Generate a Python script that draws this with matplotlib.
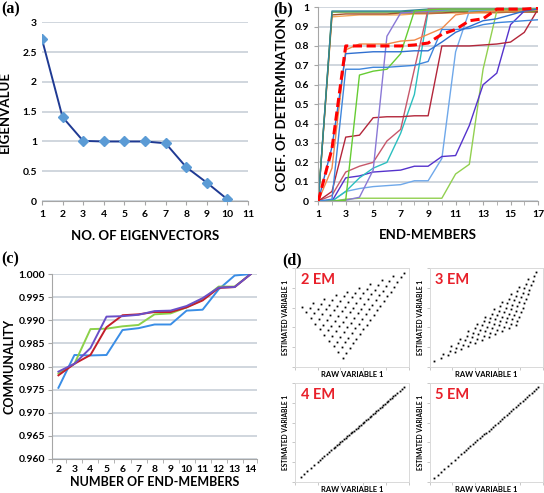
import matplotlib
matplotlib.use('Agg')
import matplotlib.pyplot as plt

plt.rcParams['font.family'] = ['Lato', 'DejaVu Sans']
plt.rcParams['font.weight'] = 'bold'
plt.rcParams['axes.labelweight'] = 'bold'

# (a) eigenvalues
eig_n = [1, 2, 3, 4, 5, 6, 7, 8, 9, 10]
eig_val = [2.72, 1.41, 1.01, 1.0, 1.0, 1.0, 0.97, 0.57, 0.31, 0.03]

# (b) coefficient of determination vs end-members
em_n = [1, 2, 3, 4, 5, 6, 7, 8, 9, 10, 11, 12, 13, 14, 15, 16, 17]
cod_top1 = [0, 0.98, 0.98, 0.98, 0.98, 0.98, 0.98, 0.985, 0.99, 0.99, 0.99, 0.99, 0.99, 0.99, 0.99, 0.99, 0.99]
cod_top2 = [0, 0.96, 0.965, 0.965, 0.965, 0.965, 0.97, 0.97, 0.97, 0.97, 0.975, 0.975, 0.975, 0.975, 0.975, 0.975, 0.975]
cod_top3 = [0, 0.975, 0.975, 0.975, 0.975, 0.975, 0.975, 0.98, 0.98, 0.98, 0.98, 0.98, 0.98, 0.98, 0.98, 0.98, 0.98]
cod_top4 = [0, 0.95, 0.955, 0.96, 0.96, 0.96, 0.96, 0.965, 0.965, 0.97, 0.97, 0.97, 0.97, 0.97, 0.975, 0.975, 0.975]
cod_blue1 = [0, 0.28, 0.76, 0.765, 0.77, 0.77, 0.77, 0.775, 0.775, 0.82, 0.87, 0.90, 0.93, 0.94, 0.96, 0.98, 0.99]
cod_blue2 = [0, 0.01, 0.68, 0.68, 0.69, 0.69, 0.695, 0.70, 0.72, 0.885, 0.885, 0.89, 0.91, 0.92, 0.925, 0.93, 0.935]
cod_orange = [0, 0.17, 0.78, 0.81, 0.81, 0.81, 0.825, 0.83, 0.86, 0.89, 0.96, 0.97, 0.975, 0.98, 0.98, 0.98, 0.985]
cod_green = [0, 0, 0.005, 0.65, 0.67, 0.68, 0.76, 0.98, 0.985, 0.99, 0.99, 0.99, 0.99, 0.99, 0.99, 0.99, 0.99]
cod_lavender = [0, 0, 0.005, 0.02, 0.16, 0.85, 0.97, 0.975, 0.98, 0.985, 0.99, 0.99, 0.99, 0.99, 0.99, 0.99, 0.99]
cod_darkred = [0, 0.05, 0.33, 0.34, 0.43, 0.435, 0.435, 0.44, 0.44, 0.80, 0.80, 0.80, 0.805, 0.81, 0.82, 0.87, 0.99]
cod_rose = [0, 0.03, 0.15, 0.18, 0.20, 0.31, 0.37, 0.68, 0.99, 0.99, 0.99, 0.99, 0.99, 0.99, 0.99, 0.99, 0.99]
cod_teal = [0, 0, 0.05, 0.12, 0.17, 0.20, 0.35, 0.55, 0.98, 0.985, 0.99, 0.99, 0.99, 0.99, 0.99, 0.99, 0.99]
cod_violet = [0, 0, 0.12, 0.13, 0.15, 0.155, 0.16, 0.18, 0.18, 0.23, 0.235, 0.39, 0.60, 0.66, 0.91, 0.98, 0.99]
cod_lightblue = [0, 0, 0.05, 0.065, 0.075, 0.08, 0.085, 0.105, 0.105, 0.22, 0.77, 0.98, 0.985, 0.99, 0.99, 0.99, 0.99]
cod_lightgreen = [0, 0, 0.01, 0.015, 0.015, 0.015, 0.015, 0.015, 0.015, 0.015, 0.14, 0.19, 0.68, 0.98, 0.985, 0.99, 0.99]
cod_mean = [0, 0.27, 0.80, 0.80, 0.80, 0.80, 0.80, 0.805, 0.815, 0.86, 0.885, 0.93, 0.94, 0.99, 0.99, 0.99, 0.995]

# (c) communality
comm_n = [2, 3, 4, 5, 6, 7, 8, 9, 10, 11, 12, 13, 14]
comm_blue = [0.9754, 0.9825, 0.9824, 0.9825, 0.9879, 0.9883, 0.9891, 0.9891, 0.9921, 0.9923, 0.9967, 0.9997, 1.000]
comm_green = [0.9785, 0.9806, 0.9881, 0.9882, 0.9887, 0.9890, 0.9913, 0.9915, 0.9928, 0.9945, 0.9973, 0.9973, 1.000]
comm_red = [0.9781, 0.9806, 0.9825, 0.9885, 0.9911, 0.9913, 0.9918, 0.9918, 0.9928, 0.9943, 0.9970, 0.9972, 1.000]
comm_purple = [0.9789, 0.9806, 0.9840, 0.9908, 0.9909, 0.9912, 0.9920, 0.9921, 0.9931, 0.9948, 0.9971, 0.9972, 1.000]

# (d) raw vs estimated variable 1
em2_x = [0.06,
         0.10, 0.13, 0.16,
         0.14, 0.17, 0.20, 0.23, 0.26,
         0.18, 0.21, 0.24, 0.27, 0.30, 0.33, 0.36,
         0.22, 0.25, 0.28, 0.31, 0.34, 0.37, 0.40, 0.43, 0.46,
         0.26, 0.29, 0.32, 0.35, 0.38, 0.41, 0.44, 0.47, 0.50, 0.53, 0.56,
         0.30, 0.33, 0.36, 0.39, 0.42, 0.45, 0.48, 0.51, 0.54, 0.57, 0.60, 0.63, 0.66,
         0.34, 0.37, 0.40, 0.43, 0.46, 0.49, 0.52, 0.55, 0.58, 0.61, 0.64, 0.67, 0.70, 0.73, 0.76,
         0.38, 0.41, 0.44, 0.47, 0.50, 0.53, 0.56, 0.59, 0.62, 0.65, 0.68, 0.71, 0.74, 0.77, 0.80, 0.83, 0.86,
         0.42, 0.45, 0.48, 0.51, 0.54, 0.57, 0.60, 0.63, 0.66, 0.69, 0.72, 0.75, 0.78, 0.81, 0.84, 0.87, 0.90, 0.93, 0.96]
em2_y = [0.64,
         0.58, 0.63, 0.68,
         0.52, 0.57, 0.62, 0.67, 0.72,
         0.46, 0.51, 0.56, 0.61, 0.66, 0.71, 0.76,
         0.40, 0.45, 0.50, 0.55, 0.60, 0.65, 0.70, 0.75, 0.80,
         0.34, 0.39, 0.44, 0.49, 0.54, 0.59, 0.64, 0.69, 0.74, 0.79, 0.84,
         0.28, 0.33, 0.38, 0.43, 0.48, 0.53, 0.58, 0.63, 0.68, 0.73, 0.78, 0.83, 0.88,
         0.22, 0.27, 0.32, 0.37, 0.42, 0.47, 0.52, 0.57, 0.62, 0.67, 0.72, 0.77, 0.82, 0.87, 0.92,
         0.16, 0.21, 0.26, 0.31, 0.36, 0.41, 0.46, 0.51, 0.56, 0.61, 0.66, 0.71, 0.76, 0.81, 0.86, 0.91, 0.96,
         0.10, 0.15, 0.20, 0.25, 0.30, 0.35, 0.40, 0.45, 0.50, 0.55, 0.60, 0.65, 0.70, 0.75, 0.80, 0.85, 0.90, 0.95, 1.00]

em3_x = [0.04,
         0.10, 0.115,
         0.16, 0.175, 0.19,
         0.22, 0.235, 0.25, 0.265,
         0.28, 0.295, 0.31, 0.325, 0.34,
         0.34, 0.355, 0.37, 0.385, 0.40, 0.415,
         0.40, 0.415, 0.43, 0.445, 0.46, 0.475, 0.49,
         0.46, 0.475, 0.49, 0.505, 0.52, 0.535, 0.55, 0.565,
         0.52, 0.535, 0.55, 0.565, 0.58, 0.595, 0.61, 0.625, 0.64,
         0.58, 0.595, 0.61, 0.625, 0.64, 0.655, 0.67, 0.685, 0.70, 0.715,
         0.64, 0.655, 0.67, 0.685, 0.70, 0.715, 0.73, 0.745, 0.76, 0.775, 0.79,
         0.70, 0.715, 0.73, 0.745, 0.76, 0.775, 0.79, 0.805, 0.82, 0.835, 0.85, 0.865,
         0.76, 0.775, 0.79, 0.805, 0.82, 0.835, 0.85, 0.865, 0.88, 0.895, 0.91, 0.925, 0.94]
em3_y = [0.06,
         0.09, 0.135,
         0.12, 0.165, 0.21,
         0.15, 0.195, 0.24, 0.285,
         0.18, 0.225, 0.27, 0.315, 0.36,
         0.21, 0.255, 0.30, 0.345, 0.39, 0.435,
         0.24, 0.285, 0.33, 0.375, 0.42, 0.465, 0.51,
         0.27, 0.315, 0.36, 0.405, 0.45, 0.495, 0.54, 0.585,
         0.30, 0.345, 0.39, 0.435, 0.48, 0.525, 0.57, 0.615, 0.66,
         0.33, 0.375, 0.42, 0.465, 0.51, 0.555, 0.60, 0.645, 0.69, 0.735,
         0.36, 0.405, 0.45, 0.495, 0.54, 0.585, 0.63, 0.675, 0.72, 0.765, 0.81,
         0.39, 0.435, 0.48, 0.525, 0.57, 0.615, 0.66, 0.705, 0.75, 0.795, 0.84, 0.885,
         0.42, 0.465, 0.51, 0.555, 0.60, 0.645, 0.69, 0.735, 0.78, 0.825, 0.87, 0.915, 0.96]

em4_raw = [0.05, 0.08, 0.11, 0.14, 0.17, 0.20, 0.22, 0.24, 0.26, 0.28, 0.30, 0.32, 0.34,
           0.355, 0.37, 0.385, 0.40, 0.415, 0.43, 0.445, 0.46, 0.475, 0.49, 0.505, 0.52,
           0.535, 0.55, 0.565, 0.58, 0.595, 0.61, 0.625, 0.64, 0.655, 0.67, 0.685, 0.70,
           0.715, 0.73, 0.745, 0.76, 0.775, 0.79, 0.805, 0.82, 0.835, 0.85, 0.865, 0.88,
           0.90, 0.92, 0.94, 0.96]
em4_est = list(em4_raw)
em5_raw = [0.04, 0.07, 0.10, 0.13, 0.16, 0.19, 0.22, 0.25, 0.28, 0.30, 0.32, 0.34, 0.36,
           0.38, 0.40, 0.42, 0.44, 0.46, 0.48, 0.50, 0.52, 0.54, 0.56, 0.58, 0.60, 0.62,
           0.64, 0.66, 0.68, 0.70, 0.72, 0.74, 0.76, 0.78, 0.80, 0.82, 0.84, 0.86, 0.88,
           0.90, 0.92, 0.94, 0.96]
em5_est = list(em5_raw)

grid_c = '#c8d0d8'
axis_c = '#a6a6a6'


def excel_axes(ax):
    for s in ['top', 'right']:
        ax.spines[s].set_visible(False)
    ax.spines['left'].set_color(axis_c)
    ax.spines['bottom'].set_color(axis_c)
    ax.yaxis.grid(True, color=grid_c, lw=1.2)
    ax.set_axisbelow(True)
    ax.tick_params(colors=axis_c, labelcolor='black', labelsize=7.5, length=3)


fig = plt.figure(figsize=(5.44, 4.93), dpi=100)

# ---- (a)
ax = fig.add_axes([0.077, 0.592, 0.379, 0.363])
excel_axes(ax)
ax.plot(eig_n, eig_val, color='#1f3a93', lw=1.4, marker='D', ms=5.5,
        mfc='#5b9bd5', mec='#5b9bd5', zorder=3)
ax.set_xlim(1, 11)
ax.set_ylim(0, 3)
ax.set_xticks(range(1, 12))
ax.set_yticks([0, 0.5, 1, 1.5, 2, 2.5, 3])
ax.set_yticklabels(['0', '0.5', '1', '1.5', '2', '2.5', '3'])
ax.set_xlabel('NO. OF EIGENVECTORS', fontsize=9.5, labelpad=8)
ax.set_ylabel('EIGENVALUE', fontsize=9.5, labelpad=8)
ax.spines['left'].set_visible(False)
ax.tick_params(axis='y', length=0)

# ---- (b)
ax = fig.add_axes([0.585, 0.592, 0.404, 0.3935])
excel_axes(ax)
b_series = [
    (cod_top4, '#f2a65a'), (cod_top2, '#a0522d'), (cod_top3, '#4e9a2c'), (cod_top1, '#31859c'),
    (cod_lightgreen, '#92d050'), (cod_lightblue, '#6fa8ea'), (cod_violet, '#5533cc'),
    (cod_teal, '#2bbfbf'), (cod_rose, '#c7576a'), (cod_darkred, '#b3263a'),
    (cod_lavender, '#8a78d6'), (cod_green, '#66cc33'), (cod_orange, '#f08a4b'),
    (cod_blue2, '#3f86dc'), (cod_blue1, '#2f6fd0'),
]
for vals, c in b_series:
    ax.plot(em_n, vals, color=c, lw=1.0)
ax.plot(em_n, cod_mean, color='#ff0000', lw=2.2, ls=(0, (3, 1.5)), zorder=4)
ax.set_xlim(1, 17)
ax.set_ylim(0, 1)
ax.set_xticks(range(1, 18, 2))
ax.set_xticks(range(2, 18, 2), minor=True)
ax.set_yticks([i / 10 for i in range(11)])
ax.set_yticklabels(['0', '0.1', '0.2', '0.3', '0.4', '0.5', '0.6', '0.7', '0.8', '0.9', '1'])
ax.tick_params(axis='x', which='minor', colors=axis_c, length=3)
ax.set_xlabel('END-MEMBERS', fontsize=9.5, labelpad=7)
ax.set_ylabel('COEF. OF DETERMINATION', fontsize=9.5, labelpad=5)

# ---- (c)
ax = fig.add_axes([0.0956, 0.069, 0.377, 0.375])
excel_axes(ax)
ax.plot(comm_n, comm_blue, color='#3a8ee6', lw=1.4)
ax.plot(comm_n, comm_green, color='#8cd14a', lw=1.4)
ax.plot(comm_n, comm_red, color='#c41e2a', lw=1.4)
ax.plot(comm_n, comm_purple, color='#6a4fc8', lw=1.4)
ax.set_xlim(1.6, 14.4)
ax.set_ylim(0.960, 1.000)
ax.set_xticks(comm_n)
ax.set_xticks([n + 0.5 for n in comm_n[:-1]] + [1.6, 14.4], minor=True)
ax.tick_params(axis='x', which='major', length=0, pad=4)
ax.tick_params(axis='x', which='minor', colors=axis_c, length=3)
ax.tick_params(axis='y', pad=2)
ax.set_yticks([0.960 + 0.005 * i for i in range(9)])
ax.set_yticklabels(['0.960', '0.965', '0.970', '0.975', '0.980', '0.985', '0.990', '0.995', '1.000'])
ax.set_xlabel('NUMBER OF END-MEMBERS', fontsize=9, labelpad=2)
ax.set_ylabel('COMMUNALITY', fontsize=9, labelpad=2)

# ---- (d)
d_panels = [
    ([0.542, 0.2556, 0.2096, 0.2008], em2_x, em2_y, '2 EM', 1.05),
    ([0.790, 0.2556, 0.2080, 0.2008], em3_x, em3_y, '3 EM', 1.0),
    ([0.542, 0.0223, 0.2096, 0.2008], em4_raw, em4_est, '4 EM', 1.0),
    ([0.790, 0.0223, 0.2080, 0.2008], em5_raw, em5_est, '5 EM', 1.0),
]
for rect, xs, ys, name, ytop in d_panels:
    ax = fig.add_axes(rect)
    ax.plot(xs, ys, ls='none', marker='s', ms=1.3, color='black', mew=0)
    ax.set_xlim(0, 1)
    ax.set_ylim(0, ytop)
    ax.set_xticks([0, 0.2, 0.4, 0.6, 0.8, 1.0])
    ax.set_yticks([ytop * i / 5 for i in range(6)])
    ax.set_xticklabels([])
    ax.set_yticklabels([])
    ax.tick_params(colors='#bfbfbf', length=2, width=0.6, pad=0)
    for s in ax.spines.values():
        s.set_color('#d9d9d9')
        s.set_linewidth(0.7)
    ax.text(0.05, 0.95, name, transform=ax.transAxes, color='#e8202a',
            fontsize=10.5, fontweight='bold', va='top', ha='left')
    ax.set_xlabel('RAW VARIABLE 1', fontsize=5.5, labelpad=1)
    ax.set_ylabel('ESTIMATED VARIABLE 1', fontsize=4.8, labelpad=2)

# panel letters
for x, y, t in [(0.003, 0.998, '(a)'), (0.503, 0.998, '(b)'),
                (0.003, 0.49, '(c)'), (0.518, 0.488, '(d)')]:
    fig.text(x, y, t, family='Liberation Serif', fontweight='bold', fontsize=11.5, va='top')

fig.savefig('out.png', dpi=100)
